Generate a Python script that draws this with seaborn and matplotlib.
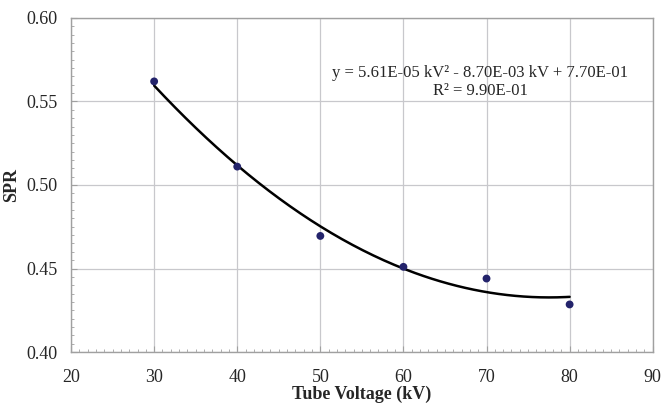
import numpy as np
import pandas as pd
import matplotlib
matplotlib.use('Agg')
import matplotlib.pyplot as plt
from matplotlib.ticker import MultipleLocator
import seaborn as sns

voltage = [30, 40, 50, 60, 70, 80]
spr = [0.562, 0.511, 0.4695, 0.451, 0.444, 0.4285]
fit_coef = [5.61e-05, -8.70e-03, 7.70e-01]
equation = 'y = 5.61E-05 kV² - 8.70E-03 kV + 7.70E-01'
r2_text = 'R² = 9.90E-01'

sns.set_style('white')
plt.rcParams['font.family'] = ['Liberation Serif', 'DejaVu Serif']

fig = plt.figure(figsize=(6.64, 4.07), dpi=100)
ax = fig.add_axes([0.107, 0.135, 0.876, 0.821])

df = pd.DataFrame({'kV': voltage, 'SPR': spr})
xs = np.linspace(min(voltage), max(voltage), 200)
fit = pd.DataFrame({'kV': xs, 'SPR': np.polyval(fit_coef, xs)})

sns.lineplot(data=fit, x='kV', y='SPR', color='black', linewidth=1.8, ax=ax, zorder=3)
sns.scatterplot(data=df, x='kV', y='SPR', color='#23236b', s=32, edgecolor='none', ax=ax, zorder=4)

ax.set_xlim(20, 90)
ax.set_ylim(0.40, 0.60)
ax.xaxis.set_major_locator(MultipleLocator(10))
ax.xaxis.set_minor_locator(MultipleLocator(1))
ax.yaxis.set_major_locator(MultipleLocator(0.05))
ax.yaxis.set_minor_locator(MultipleLocator(0.005))
ax.yaxis.set_major_formatter(matplotlib.ticker.FormatStrFormatter('%.2f'))
ax.grid(True, which='major', color='#c8c8cc', linewidth=0.9)
ax.set_axisbelow(True)
for s in ax.spines.values():
    s.set_color('#a0a0a0')
    s.set_linewidth(1.0)
ax.tick_params(which='major', direction='in', length=4, color='#a0a0a0', labelsize=13,
               left=True, bottom=True)
ax.tick_params(axis='x', which='major', pad=12)
ax.tick_params(axis='y', which='major', pad=10)
ax.tick_params(which='minor', direction='in', length=2, color='#a0a0a0', left=True, bottom=True)

ax.set_xlabel('Tube Voltage (kV)', fontsize=13, fontweight='bold', labelpad=0)
ax.set_ylabel('SPR', fontsize=13, fontweight='bold', labelpad=4)

ax.text(0.703, 0.808, equation + '\n' + r2_text, transform=ax.transAxes, ha='center', va='center',
        fontsize=12, linespacing=1.1, multialignment='center')

fig.savefig('out.png', dpi=100)
